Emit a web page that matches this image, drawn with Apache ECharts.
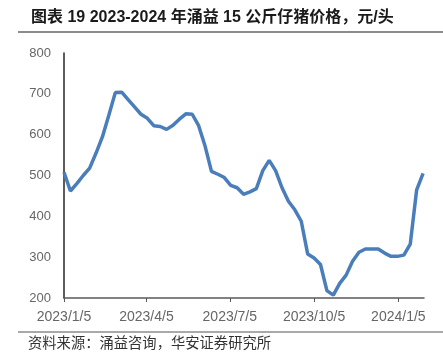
<!DOCTYPE html>
<html lang="zh">

<head>
    <meta charset="UTF-8">
    <title>涌益15公斤仔猪价格</title>
    <style>
        html,
        body {
            margin: 0;
            padding: 0;
            width: 443px;
            height: 354px;
            background: #fff;
        }
    </style>
</head>

<body>
    <div id="main" style="width: 443px;height:354px;"></div>
    <script src="https://cdn.jsdelivr.net/npm/echarts@6/dist/echarts.min.js"></script>
    <script type="text/javascript">
        // 周度日期
        var weeks = [
            '2023/1/5', '2023/1/12', '2023/1/19', '2023/1/26', '2023/2/2', '2023/2/9', '2023/2/16', '2023/2/23',
            '2023/3/2', '2023/3/9', '2023/3/16', '2023/3/23', '2023/3/30', '2023/4/6', '2023/4/13', '2023/4/20',
            '2023/4/27', '2023/5/4', '2023/5/11', '2023/5/18', '2023/5/25', '2023/6/1', '2023/6/8', '2023/6/15',
            '2023/6/22', '2023/6/29', '2023/7/6', '2023/7/13', '2023/7/20', '2023/7/27', '2023/8/3', '2023/8/10',
            '2023/8/17', '2023/8/24', '2023/8/31', '2023/9/7', '2023/9/14', '2023/9/21', '2023/9/28', '2023/10/5',
            '2023/10/12', '2023/10/19', '2023/10/26', '2023/11/2', '2023/11/9', '2023/11/16', '2023/11/23', '2023/11/30',
            '2023/12/7', '2023/12/14', '2023/12/21', '2023/12/28', '2024/1/4', '2024/1/11', '2024/1/18', '2024/1/25',
            '2024/2/1'
        ];
        // 仔猪价格，元/头
        var prices = [
            508, 462, 480, 500, 518, 555, 595, 648, 703, 704,
            686, 668, 650, 640, 622, 620, 613, 623, 638, 651,
            650, 622, 572, 510, 503, 495, 476, 470, 454, 460,
            468, 512, 537, 512, 470, 437, 416, 388, 308, 298,
            282, 218, 207, 236, 256, 290, 312, 320, 320, 320,
            310, 302, 302, 305, 332, 465, 505
        ];
        var tickLabels = ['2023/1/5', '2023/4/5', '2023/7/5', '2023/10/5', '2024/1/5'];

        function dayOf(s) {
            var p = s.split('/');
            return (Date.UTC(+p[0], +p[1] - 1, +p[2]) - Date.UTC(2023, 0, 5)) / 86400000;
        }

        var tickDays = tickLabels.map(dayOf);
        var seriesData = weeks.map(function (w, i) { return [dayOf(w), prices[i]]; });

        var myChart = echarts.init(document.getElementById('main'));
        var cjk = "'Liberation Sans', 'Noto Sans CJK SC', sans-serif";
        var option = {
            animation: false,
            title: {
                text: '图表 19 2023-2024 年涌益 15 公斤仔猪价格，元/头',
                left: 26,
                top: 5,
                textStyle: {
                    fontSize: 16,
                    fontWeight: 'bold',
                    color: '#1a1a1a',
                    fontFamily: cjk
                }
            },
            graphic: [
                {
                    type: 'line',
                    shape: { x1: 18, y1: 32, x2: 443, y2: 32 },
                    style: { stroke: '#8c8c8c', lineWidth: 2 }
                },
                {
                    type: 'line',
                    shape: { x1: 18, y1: 332, x2: 443, y2: 332 },
                    style: { stroke: '#8c8c8c', lineWidth: 1.5 }
                },
                {
                    type: 'text',
                    left: 28,
                    top: 335,
                    style: {
                        text: '资料来源：涌益咨询，华安证券研究所',
                        font: "14.3px 'Noto Sans CJK SC'",
                        fill: '#333'
                    }
                }
            ],
            grid: {
                left: 64,
                right: 19,
                top: 53,
                bottom: 56
            },
            xAxis: {
                type: 'value',
                min: 0,
                max: 393,
                splitLine: { show: false },
                axisLine: { show: true, lineStyle: { color: '#595959', width: 1.5 } },
                axisTick: {
                    show: true,
                    length: 4,
                    customValues: tickDays,
                    lineStyle: { color: '#595959' }
                },
                axisLabel: {
                    customValues: tickDays,
                    color: '#666',
                    fontSize: 14,
                    margin: 12,
                    fontFamily: 'Liberation Sans',
                    formatter: function (v) {
                        return tickLabels[tickDays.indexOf(v)];
                    }
                }
            },
            yAxis: {
                type: 'value',
                min: 200,
                max: 800,
                interval: 100,
                splitLine: { show: false },
                axisLine: { show: true, lineStyle: { color: '#262626', width: 1.5 } },
                axisTick: { show: false },
                axisLabel: {
                    color: '#666',
                    fontSize: 13,
                    margin: 13,
                    fontFamily: 'Liberation Sans'
                }
            },
            series: [{
                name: '仔猪价格',
                type: 'line',
                showSymbol: false,
                lineStyle: { width: 3.5, color: '#4a7ebb' },
                itemStyle: { color: '#4a7ebb' },
                data: seriesData
            }]
        };
        myChart.setOption(option);
    </script>
</body>

</html>
